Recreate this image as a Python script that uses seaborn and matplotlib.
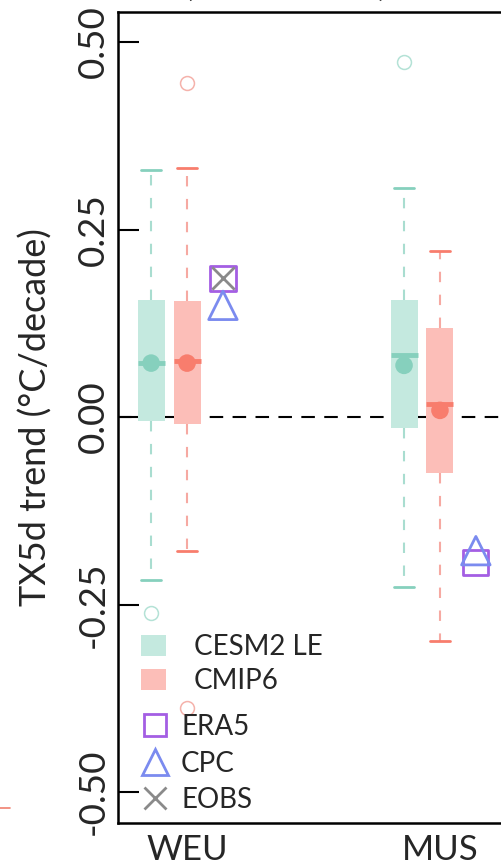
import numpy as np
import pandas as pd
import matplotlib
matplotlib.use("Agg")
import matplotlib.pyplot as plt
from matplotlib.lines import Line2D
from matplotlib.patches import Patch
import seaborn as sns

# ---------------- data ----------------
regions = ["WEU", "MUS"]

cesm_whislo = [-0.217, -0.227]
cesm_q1 = [-0.005, -0.014]
cesm_med = [0.072, 0.083]
cesm_q3 = [0.156, 0.156]
cesm_whishi = [0.329, 0.305]
cesm_mean = [0.072, 0.069]
cesm_fliers = [[-0.261], [0.473]]

cmip_whislo = [-0.179, -0.299]
cmip_q1 = [-0.009, -0.075]
cmip_med = [0.075, 0.017]
cmip_q3 = [0.155, 0.119]
cmip_whishi = [0.332, 0.221]
cmip_mean = [0.072, 0.009]
cmip_fliers = [[0.445, -0.388], []]

era5 = [0.185, -0.194]
cpc = [0.149, -0.178]
eobs = [0.185, np.nan]

yticks = [-0.50, -0.25, 0.00, 0.25, 0.50]
ylabel = "TX5d trend (°C/decade)"

# ---------------- style ----------------
sns.set_theme(style="ticks")
plt.rcParams["font.family"] = ["Lato", "DejaVu Sans"]

teal_box, teal_line, teal_whisk, teal_flier = "#c4e9df", "#86d0bd", "#a9ddd0", "#b4e2d6"
sal_box, sal_line, sal_whisk, sal_flier = "#fcbeb8", "#f87d6d", "#f6a9a2", "#f5b2ab"
c_era5, c_cpc, c_eobs = "#a45ee3", "#7b8bef", "#8a8a8a"

fig = plt.figure(figsize=(5.02, 8.65), dpi=100)
ax = fig.add_axes([118 / 502, 42 / 865, 391 / 502, 811 / 865])

base = np.arange(len(regions))
off = 0.142
bw = 0.107

def draw_boxes(pos, whislo, q1, med, q3, whishi, fliers, cbox, cline, cwhisk, cflier):
    stats = []
    for i in range(len(pos)):
        stats.append(dict(whislo=whislo[i], q1=q1[i], med=med[i], q3=q3[i],
                          whishi=whishi[i], fliers=fliers[i]))
    ax.bxp(stats, positions=pos, widths=bw, capwidths=0.08, patch_artist=True,
           showfliers=True, manage_ticks=False,
           boxprops=dict(facecolor=cbox, edgecolor="none", linewidth=0),
           medianprops=dict(color=cline, linewidth=3.5, solid_capstyle="butt"),
           whiskerprops=dict(color=cwhisk, linewidth=1.5, linestyle=(0, (5, 6))),
           capprops=dict(color=cline, linewidth=2),
           flierprops=dict(marker="o", markerfacecolor="none", markeredgecolor=cflier,
                           markersize=10, markeredgewidth=1.1),
           zorder=2)

draw_boxes(base - off, cesm_whislo, cesm_q1, cesm_med, cesm_q3, cesm_whishi, cesm_fliers,
           teal_box, teal_line, teal_whisk, teal_flier)
draw_boxes(base, cmip_whislo, cmip_q1, cmip_med, cmip_q3, cmip_whishi, cmip_fliers,
           sal_box, sal_line, sal_whisk, sal_flier)

# means
means = pd.DataFrame({
    "x": np.concatenate([base - off, base]),
    "y": cesm_mean + cmip_mean,
    "model": ["CESM2 LE"] * 2 + ["CMIP6"] * 2,
})
sns.scatterplot(data=means, x="x", y="y", hue="model",
                palette={"CESM2 LE": teal_line, "CMIP6": sal_line},
                s=160, linewidth=0, legend=False, ax=ax, zorder=4)

# observations
obs_x = base + off
sns.scatterplot(x=obs_x, y=era5, marker="s", s=330, facecolor="none",
                edgecolor=c_era5, linewidth=2, ax=ax, zorder=5)
sns.scatterplot(x=obs_x, y=cpc, marker="^", s=420, facecolor="none",
                edgecolor=c_cpc, linewidth=2, ax=ax, zorder=5)
sns.scatterplot(x=obs_x, y=eobs, marker="x", s=260, color=c_eobs,
                linewidth=2, ax=ax, zorder=6)

ax.axhline(0, color="black", linewidth=1.5, linestyle=(0, (6.5, 4.5)), zorder=1)

ax.set_xlim(-0.273, 1.273)
ax.set_ylim(-0.541, 0.54)
ax.set_xticks(base)
ax.set_xticklabels(regions, fontsize=25)
ax.set_yticks(yticks)
ax.set_yticklabels([f"{v:.2f}" for v in yticks], fontsize=26.5, rotation=90, va="center")
ax.tick_params(axis="y", direction="in", length=15, width=1.5, pad=6, color="black")
ax.tick_params(axis="x", length=0, pad=8)
ax.set_xlabel("")
ax.set_ylabel(ylabel, fontsize=26, labelpad=17)
for sp in ax.spines.values():
    sp.set_linewidth(1.8)
    sp.set_color("black")

# legends
h1 = [Patch(facecolor=teal_box, edgecolor="none", label="CESM2 LE"),
      Patch(facecolor=sal_box, edgecolor="none", label="CMIP6")]
leg1 = ax.legend(handles=h1, loc="upper left", bbox_to_anchor=(0.03, 0.247),
                 frameon=False, fontsize=20, handlelength=0.9, handleheight=0.8,
                 handletextpad=1.0, labelspacing=0.3, borderaxespad=0)
ax.add_artist(leg1)
h2 = [Line2D([], [], marker="s", linestyle="none", markerfacecolor="none",
             markeredgecolor=c_era5, markeredgewidth=2, markersize=16, label="ERA5"),
      Line2D([], [], marker="^", linestyle="none", markerfacecolor="none",
             markeredgecolor=c_cpc, markeredgewidth=2, markersize=19, label="CPC"),
      Line2D([], [], marker="x", linestyle="none", color=c_eobs,
             markeredgewidth=2, markersize=16, label="EOBS")]
ax.legend(handles=h2, loc="upper left", bbox_to_anchor=(0.03, 0.148),
          frameon=False, fontsize=20, handlelength=1.0, handletextpad=0.45,
          labelspacing=0.38, borderaxespad=0)

# partial title cut by the top edge and stray mark from neighbouring panel
fig.text(188 / 502, 1 + 4 / 865, "(", fontsize=25, ha="center", va="baseline")
fig.text(383 / 502, 1 + 4 / 865, ")", fontsize=25, ha="center", va="baseline")
fig.add_artist(Line2D([0, 10 / 502], [1 - 808 / 865, 1 - 808 / 865],
                      color="#f08070", linewidth=1.2, transform=fig.transFigure))

fig.savefig("out.png", dpi=100)
